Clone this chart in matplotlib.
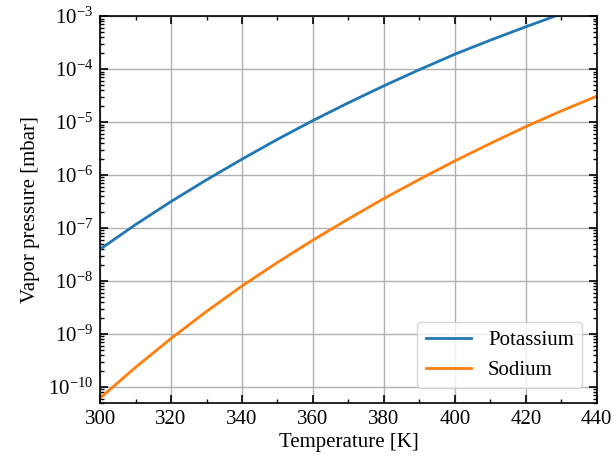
import numpy as np
import matplotlib.pyplot as plt

# temperature grid [K]
temperature = [300, 310, 320, 330, 340, 350, 360, 370, 380, 390, 400, 410, 420, 430, 440]

# log10 of vapor pressure in mbar
log_p_potassium = [-7.40, -6.935, -6.50, -6.09, -5.70, -5.325, -4.97, -4.635,
                   -4.315, -4.01, -3.718, -3.453, -3.20, -2.955, -2.72]
log_p_sodium = [-10.21, -9.63, -9.085, -8.575, -8.094, -7.649, -7.228, -6.828,
                -6.443, -6.081, -5.733, -5.403, -5.085, -4.79, -4.51]

p_potassium = 10.0 ** np.array(log_p_potassium)
p_sodium = 10.0 ** np.array(log_p_sodium)

plt.rcParams['font.family'] = ['Liberation Serif', 'DejaVu Serif']
plt.rcParams['mathtext.fontset'] = 'stix'
plt.rcParams['font.size'] = 15

fig = plt.figure(figsize=(6.14, 4.62), dpi=100)
ax = fig.add_axes([0.163, 0.128, 0.809, 0.837])

ax.semilogy(temperature, p_potassium, color='#1f77b4', lw=2, label='Potassium')
ax.semilogy(temperature, p_sodium, color='#ff7f0e', lw=2, label='Sodium')

ax.set_xlim(300, 440)
ax.set_ylim(5e-11, 1e-3)
ax.set_xticks([300, 320, 340, 360, 380, 400, 420, 440])
ax.set_xticks(np.arange(310, 440, 20), minor=True)

ax.grid(True, which='major', color='#b0b0b0', lw=1)
ax.tick_params(which='both', direction='in', top=True, right=True)
ax.tick_params(which='major', length=6, width=1.2, pad=5)
ax.tick_params(which='minor', length=3, width=1)
for s in ax.spines.values():
    s.set_linewidth(1.2)

ax.set_xlabel('Temperature [K]', labelpad=3)
ax.set_ylabel('Vapor pressure [mbar]', labelpad=6)

ax.legend(loc='lower right', fontsize=15, handlelength=2.2, framealpha=0.8,
          borderaxespad=0.7)

plt.savefig('out.png', dpi=100)
